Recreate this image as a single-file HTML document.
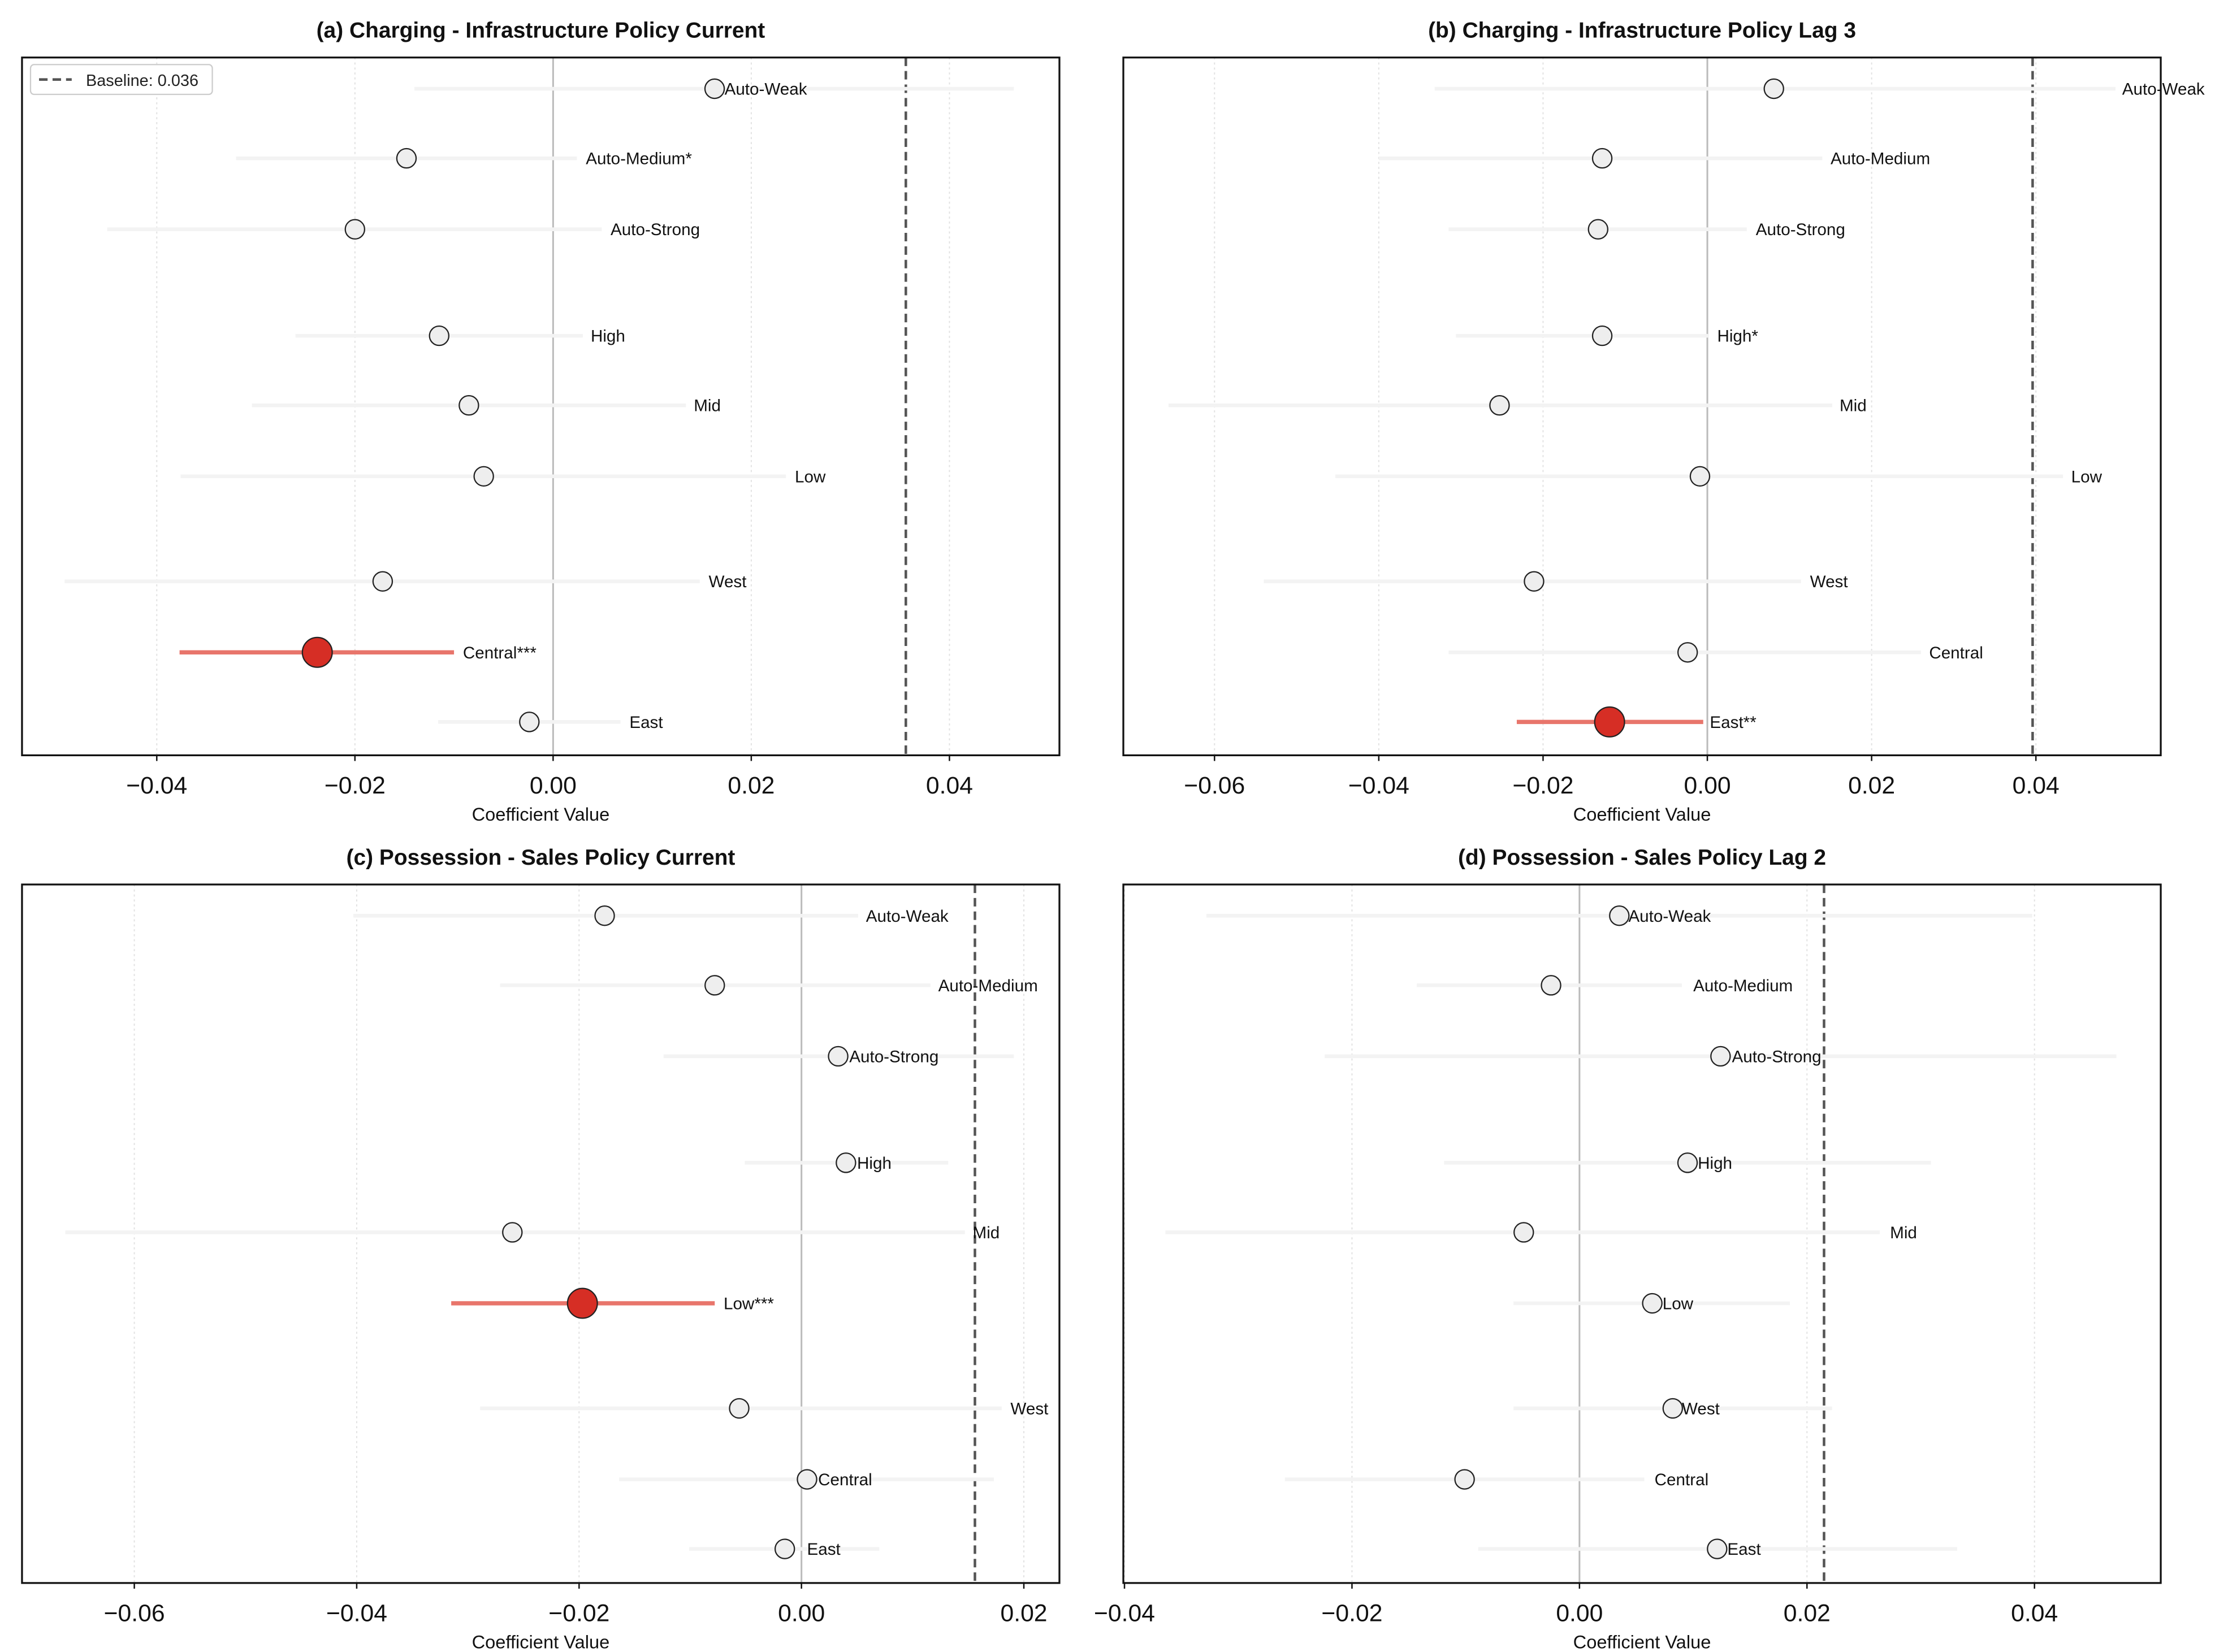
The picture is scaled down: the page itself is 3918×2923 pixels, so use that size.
<!DOCTYPE html>
<html><head><meta charset="utf-8">
<style>
html,body{margin:0;padding:0;background:#fff;}
svg{display:block;font-family:"Liberation Sans",Arial,sans-serif;}
</style></head>
<body>
<svg id="fig" xmlns="http://www.w3.org/2000/svg" width="3918" height="2923" viewBox="0 0 1559.7 1163.6"></svg>
<script>
// ---- data (top-level arrays) ----
const categories = ["Auto-Weak","Auto-Medium","Auto-Strong","High","Mid","Low","West","Central","East"];

const aTitle = "(a) Charging - Infrastructure Policy Current";
const aPoint = [0.0163,-0.0148,-0.0200,-0.0115,-0.0085,-0.0070,-0.0172,-0.0238,-0.0024];
const aLow   = [-0.0140,-0.0320,-0.0450,-0.0260,-0.0304,-0.0376,-0.0493,-0.0377,-0.0116];
const aHigh  = [0.0465,0.0024,0.0049,0.0030,0.0134,0.0235,0.0148,-0.0100,0.0068];
const aLabelAt = [0.0173,0.0033,0.0058,0.0038,0.0142,0.0244,0.0157,-0.0091,0.0077];
const aStars = ["","*","","","","","","***",""];
const aTicks = [-0.04,-0.02,0.00,0.02,0.04];
const aTickLabels = ["\u22120.04","\u22120.02","0.00","0.02","0.04"];
const aBaseline = 0.0356;

const bTitle = "(b) Charging - Infrastructure Policy Lag 3";
const bPoint = [0.0081,-0.0128,-0.0133,-0.0128,-0.0253,-0.0009,-0.0211,-0.0024,-0.0119];
const bLow   = [-0.0332,-0.0400,-0.0315,-0.0306,-0.0656,-0.0453,-0.0540,-0.0315,-0.0232];
const bHigh  = [0.0497,0.0140,0.0048,0.0002,0.0152,0.0433,0.0114,0.0260,-0.0005];
const bLabelAt = [0.0505,0.0150,0.0059,0.0012,0.0161,0.0443,0.0125,0.0270,0.0003];
const bStars = ["","","","*","","","","","**"];
const bTicks = [-0.06,-0.04,-0.02,0.00,0.02,0.04];
const bTickLabels = ["\u22120.06","\u22120.04","\u22120.02","0.00","0.02","0.04"];
const bBaseline = 0.0396;

const cTitle = "(c) Possession - Sales Policy Current";
const cPoint = [-0.0177,-0.0078,0.0033,0.0040,-0.0260,-0.0197,-0.0056,0.0005,-0.0015];
const cLow   = [-0.0403,-0.0271,-0.0124,-0.0051,-0.0662,-0.0315,-0.0289,-0.0164,-0.0101];
const cHigh  = [0.0051,0.0116,0.0191,0.0132,0.0147,-0.0078,0.0180,0.0173,0.0070];
const cLabelAt = [0.0058,0.0123,0.0043,0.0050,0.0154,-0.0070,0.0188,0.0015,0.0005];
const cStars = ["","","","","","***","","",""];
const cTicks = [-0.06,-0.04,-0.02,0.00,0.02];
const cTickLabels = ["\u22120.06","\u22120.04","\u22120.02","0.00","0.02"];
const cBaseline = 0.0156;

const dTitle = "(d) Possession - Sales Policy Lag 2";
const dPoint = [0.0035,-0.0025,0.0124,0.0095,-0.0049,0.0064,0.0082,-0.0101,0.0121];
const dLow   = [-0.0328,-0.0143,-0.0224,-0.0119,-0.0364,-0.0058,-0.0058,-0.0259,-0.0089];
const dHigh  = [0.0398,0.0090,0.0472,0.0309,0.0264,0.0185,0.0222,0.0057,0.0332];
const dLabelAt = [0.0043,0.0100,0.0134,0.0104,0.0273,0.0073,0.0090,0.0066,0.0130];
const dStars = ["","","","","","","","",""];
const dTicks = [-0.04,-0.02,0.00,0.02,0.04];
const dTickLabels = ["\u22120.04","\u22120.02","0.00","0.02","0.04"];
const dBaseline = 0.0215;

// ---- drawing ----
const NS = "http://www.w3.org/2000/svg";
const svg = document.getElementById("fig");
function mk(tag, attrs, parent){
  const e = document.createElementNS(NS, tag);
  for (const k in attrs) e.setAttribute(k, attrs[k]);
  (parent||svg).appendChild(e);
  return e;
}
const rowOffsets = [22, 71, 121, 196, 245, 295, 369, 419, 468];

function panel(key, box, xmin, xmax, title, pts, lo, hi, labAt, stars, ticks, tickLabels, base, legend){
  const g = mk("g", {});
  
  
  const L = box[0], R = box[1], T = box[2], B = box[3];
  const xs = v => L + (v - xmin) / (xmax - xmin) * (R - L);
  const cx = (L + R) / 2;
  const t = mk("text", {x: cx, y: T - 14, "text-anchor": "middle", "font-size": 15.5, "font-weight": "bold", fill: "#111"}, g);
  t.textContent = title;
  
  
  ticks.forEach((v, i) => {
    const gl = mk("line", {x1: xs(v), x2: xs(v), y1: T, y2: B, stroke: "#e2e2e2", "stroke-width": 0.8, "stroke-dasharray": "1.5,2"}, g);
    
    
  });
  const z = mk("line", {x1: xs(0), x2: xs(0), y1: T, y2: B, stroke: "#bbb", "stroke-width": 1.2}, g);
  
  
  const bl = mk("line", {x1: xs(base), x2: xs(base), y1: T, y2: B, stroke: "#555", "stroke-width": 1.8, "stroke-dasharray": "6,3.5"}, g);
  
  
  categories.forEach((c, i) => {
    const y = T + rowOffsets[i];
    const sig = stars[i].length >= 2;
    const ci = mk("line", {x1: xs(lo[i]), x2: xs(hi[i]), y1: y, y2: y, stroke: sig ? "#e8756b" : "#f3f3f3", "stroke-width": sig ? 3 : 2.6}, g);
    
    
    const p = mk("circle", {cx: xs(pts[i]), cy: y, r: sig ? 10.5 : 6.8, fill: sig ? "#d62e25" : "#eeeeee", stroke: "#222", "stroke-width": 0.9}, g);
    
    
    const lb = mk("text", {x: xs(labAt[i]), y: y + 4.2, "font-size": 11.8, fill: "#111"}, g);
    lb.textContent = c + stars[i];
    
    
  });
  const fr = mk("rect", {x: L, y: T, width: R - L, height: B - T, fill: "none", stroke: "#111", "stroke-width": 1.3}, g);
  
  
  ticks.forEach((v, i) => {
    const tk = mk("line", {x1: xs(v), x2: xs(v), y1: B, y2: B + 4, stroke: "#111", "stroke-width": 1}, g);
    
    
    const tl = mk("text", {x: xs(v), y: B + 27, "text-anchor": "middle", "font-size": 17, fill: "#111"}, g);
    tl.textContent = tickLabels[i];
    
    
  });
  const xl = mk("text", {x: cx, y: B + 46, "text-anchor": "middle", "font-size": 13, fill: "#111"}, g);
  xl.textContent = "Coefficient Value";
  
  
  if (legend){
    const lg = mk("g", {}, g);
    
    
    mk("rect", {x: L + 6, y: T + 5, width: 128, height: 21, rx: 2.5, fill: "#fff", stroke: "#ccc", "stroke-width": 0.9}, lg);
    mk("line", {x1: L + 12, x2: L + 35, y1: T + 15.5, y2: T + 15.5, stroke: "#555", "stroke-width": 1.8, "stroke-dasharray": "6,3.5"}, lg);
    const lt = mk("text", {x: L + 45, y: T + 20, "font-size": 11.5, fill: "#222"}, lg);
    lt.textContent = "Baseline: 0.036";
    
    
  }
}

panel("a", [15.5, 746, 40.5, 532], -0.0536, 0.0511, aTitle, aPoint, aLow, aHigh, aLabelAt, aStars, aTicks, aTickLabels, aBaseline, true);
panel("b", [791, 1521.5, 40.5, 532], -0.0711, 0.0552, bTitle, bPoint, bLow, bHigh, bLabelAt, bStars, bTicks, bTickLabels, bBaseline, false);
panel("c", [15.5, 746, 623, 1115], -0.0701, 0.0232, cTitle, cPoint, cLow, cHigh, cLabelAt, cStars, cTicks, cTickLabels, cBaseline, false);
panel("d", [791, 1521.5, 623, 1115], -0.0401, 0.0511, dTitle, dPoint, dLow, dHigh, dLabelAt, dStars, dTicks, dTickLabels, dBaseline, false);
</script>
</body></html>
